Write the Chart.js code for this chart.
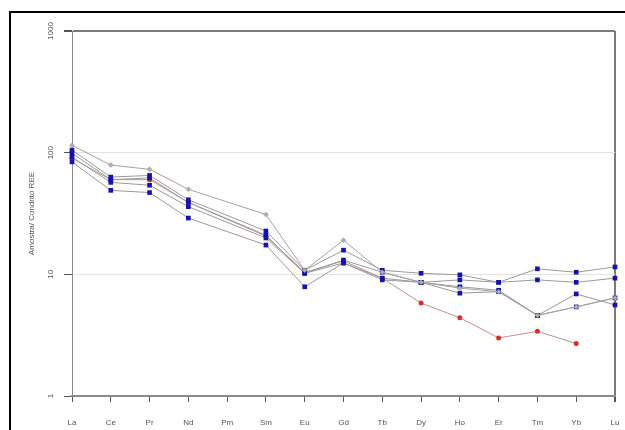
<!DOCTYPE html>
<html>
<head>
<meta charset="utf-8">
<script src="https://cdn.jsdelivr.net/npm/chart.js@4"></script>
<style>
html,body{margin:0;padding:0;background:#fff;}
#wrap{position:relative;width:625px;height:430px;overflow:hidden;}
canvas{position:absolute;left:0;top:0;}
#frame{position:absolute;left:9px;top:11px;width:700px;height:500px;border:2px solid #000;pointer-events:none;}
</style>
</head>
<body>
<div id="wrap">
<canvas id="c" width="625" height="430"></canvas>
<div id="frame"></div>
</div>
<script>
const elements = ['La','Ce','Pr','Nd','Pm','Sm','Eu','Gd','Tb','Dy','Ho','Er','Tm','Yb','Lu'];
const yTicks = [1, 10, 100, 1000];
const yTitle = 'Amostra/ Condrito REE';

const sampleA = [115, 79, 73, 50, null, 31, 10.8, 19.1, 10.4, 8.6, 7.7, 7.2, 4.6, 5.4, 6.4];
const sampleB = [105, 63, 65, 41, null, 22.7, 10.8, 15.8, 10.8, 10.2, 9.9, 8.6, 11.1, 10.4, 11.5];
const sampleC = [99, 60, 62, 39, null, 21, 10.2, 13.1, 10.4, 8.6, 9.0, 8.6, 9.0, 8.6, 9.3];
const sampleD = [92, 57, 54, 36, null, 19.9, 10.2, 12.4, 9.3, 8.6, 7.9, 7.4, 4.6, 6.9, 5.6];
const sampleE = [84, 49, 47, 29, null, 17.4, 7.9, 12.4, 9.0, 8.6, 7.0, 7.2, 4.6, 5.4, 6.4];
const sampleR = [90, 60, 60, 39, null, 20.6, 10.4, 12.9, 9.3, 5.8, 4.4, 3.0, 3.4, 2.7, null];

const blue = '#1414a8';
const lineGrey = '#9a9a9a';
function blueSet(data){
  return {data, borderColor: lineGrey, borderWidth: 1, pointStyle: 'rect', pointRadius: 3.3,
    pointBackgroundColor: blue, pointBorderColor: blue, pointBorderWidth: 0, spanGaps: true, tension: 0};
}

new Chart(document.getElementById('c'), {
  type: 'line',
  data: {
    labels: elements,
    datasets: [
      {data: sampleA, borderColor: '#a8a0a0', borderWidth: 1, pointStyle: 'rectRot', pointRadius: 2.5,
        pointBackgroundColor: '#b0b0b0', pointBorderColor: '#999', pointBorderWidth: 0.5, spanGaps: true},
      blueSet(sampleB),
      blueSet(sampleC),
      blueSet(sampleD),
      blueSet(sampleE),
      {data: sampleR, borderColor: '#c09090', borderWidth: 1, pointStyle: 'circle', pointRadius: 2.5,
        pointBackgroundColor: '#d03030', pointBorderColor: '#d03030', pointBorderWidth: 0, spanGaps: true}
    ]
  },
  options: {
    responsive: false,
    animation: false,
    events: [],
    layout: {padding: {left: 16, top: 31, right: 10, bottom: 0}},
    plugins: {legend: {display: false}, tooltip: {enabled: false}},
    scales: {
      x: {
        type: 'category',
        offset: false,
        afterFit: s => { s.height = 34; s.paddingLeft = 0; s.paddingRight = 0; },
        border: {display: true, color: '#8a8a8a', width: 2},
        grid: {
          color: ctx => ctx.index === elements.length - 1 ? '#7a7a7a' : 'rgba(0,0,0,0)',
          lineWidth: ctx => ctx.index === elements.length - 1 ? 2 : 1,
          tickColor: '#555', tickLength: 6, drawTicks: true
        },
        ticks: {color: '#555', font: {family: 'Liberation Sans', size: 8}, padding: 16, maxRotation: 0, autoSkip: false}
      },
      y: {
        type: 'logarithmic',
        min: 1, max: 1000,
        afterFit: s => { s.width = 56; s.paddingTop = 0; s.paddingBottom = 0; },
        afterBuildTicks: s => { s.ticks = yTicks.map(v => ({value: v})); },
        border: {display: true, color: '#8a8a8a', width: 1},
        grid: {
          color: ctx => ctx.tick.value === 1000 ? '#7a7a7a' : (ctx.tick.value === 1 ? 'rgba(0,0,0,0)' : '#e2e2e2'),
          lineWidth: ctx => ctx.tick.value === 1000 ? 2 : 1,
          tickColor: '#555', tickLength: 8
        },
        ticks: {color: '#555', font: {family: 'Liberation Sans', size: 8}, padding: 4,
          minRotation: 90, maxRotation: 90, crossAlign: 'center',
          callback: v => String(v)},
        title: {display: true, text: yTitle, color: '#555', font: {family: 'Liberation Sans', size: 8}, padding: {top: 11, bottom: 0}}
      }
    }
  }
});
</script>
</body>
</html>
